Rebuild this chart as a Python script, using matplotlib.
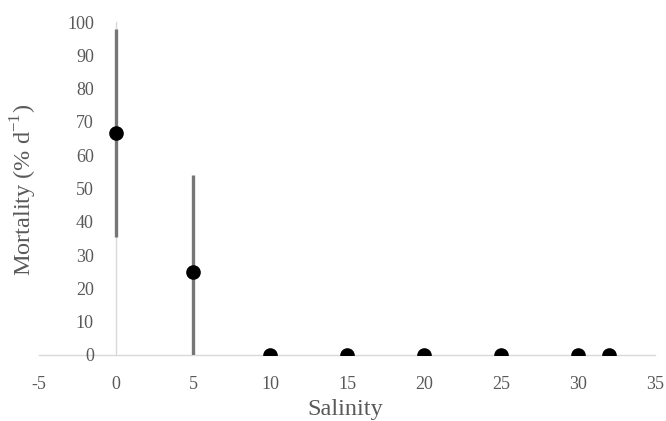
import numpy as np
import matplotlib.pyplot as plt

# Data
salinity = [0, 5, 10, 15, 20, 25, 30, 32]
mortality = [66.7, 25.0, 0, 0, 0, 0, 0, 0]
mort_err = [31.3, 29.0, 0, 0, 0, 0, 0, 0]

plt.rcParams['font.family'] = ['Liberation Serif', 'DejaVu Serif']
plt.rcParams['axes.unicode_minus'] = False
plt.rcParams['mathtext.fontset'] = 'custom'
plt.rcParams['mathtext.rm'] = 'Liberation Serif'

grey_txt = '#595959'
axis_col = '#d9d9d9'

fig = plt.figure(figsize=(6.66, 4.21), dpi=100)
ax = fig.add_axes([0.0586, 0.1568, 0.9249, 0.7909])

ax.errorbar(salinity, mortality, yerr=mort_err, fmt='o', color='black',
            markersize=9.5, ecolor='#767676', elinewidth=2.4, capsize=0,
            zorder=3)

ax.set_xlim(-5, 35)
ax.set_ylim(0, 100)
ax.set_xticks(np.arange(-5, 36, 5))
ax.set_yticks(np.arange(0, 101, 10))

# Excel style: vertical axis crosses at x = 0
ax.spines['left'].set_position(('data', 0))
ax.spines['right'].set_visible(False)
ax.spines['top'].set_visible(False)
for s in ('left', 'bottom'):
    ax.spines[s].set_color(axis_col)
    ax.spines[s].set_linewidth(1.0)
    ax.spines[s].set_zorder(1)

ax.tick_params(axis='both', length=0, labelsize=13, labelcolor=grey_txt)
ax.tick_params(axis='y', pad=16)
ax.tick_params(axis='x', pad=15)

ax.set_xlabel('Salinity', fontsize=17.5, color=grey_txt)
ax.set_ylabel('Mortality (% d$^{\\mathregular{-1}}$)', fontsize=17.5, color=grey_txt)
ax.xaxis.set_label_coords(0.497, -0.132)
ax.yaxis.set_label_coords(0.0, 0.495)

fig.savefig('out.png', dpi=100)
